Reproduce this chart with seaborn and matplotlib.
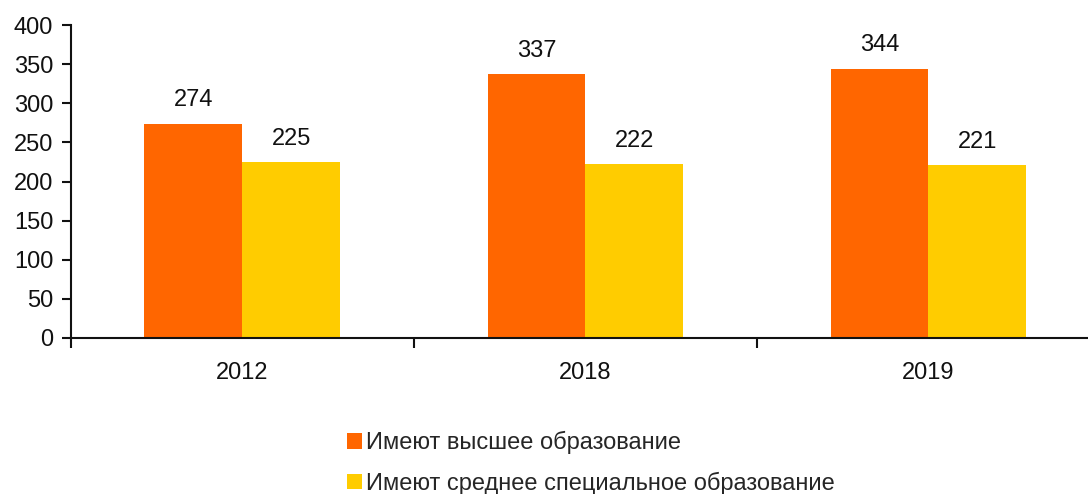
import matplotlib
matplotlib.use("Agg")
import matplotlib.pyplot as plt
import seaborn as sns
import pandas as pd
from matplotlib.ticker import FixedLocator, MultipleLocator

# Данные
years = ["2012", "2018", "2019"]
higher = [274, 337, 344]
special = [225, 222, 221]
series_names = ["Имеют высшее образование", "Имеют среднее специальное образование"]

df = pd.DataFrame({
    "year": years * 2,
    "value": higher + special,
    "group": [series_names[0]] * 3 + [series_names[1]] * 3,
})

sns.set_theme(style="white")
plt.rcParams["font.family"] = ["Liberation Sans", "DejaVu Sans"]

fs = 17

fig = plt.figure(figsize=(10.88, 4.94), dpi=100)
# ось шире фигуры: правый край обрезается, как в оригинале
ax = fig.add_axes([0.065, 0.316, 0.946, 0.633])

sns.barplot(data=df, x="year", y="value", hue="group", ax=ax,
            palette=["#FF6600", "#FFCC00"], width=0.57, saturation=1,
            edgecolor="none", linewidth=0)

for cont in ax.containers:
    ax.bar_label(cont, padding=9, fontsize=fs, color="#111111")

ax.set_ylim(0, 400)
ax.set_xlim(-0.5, 2.5)
ax.yaxis.set_major_locator(MultipleLocator(50))
ax.set_xlabel("")
ax.set_ylabel("")

ax.tick_params(axis="y", which="major", left=True, length=6.5, width=1.5,
               direction="out", labelsize=fs, colors="#111111", pad=6)
ax.tick_params(axis="x", which="major", bottom=False, length=0, labelsize=fs,
               labelcolor="#111111", pad=17)
ax.xaxis.set_minor_locator(FixedLocator([-0.5, 0.5, 1.5]))
ax.tick_params(axis="x", which="minor", bottom=True, length=7, width=1.5,
               direction="out", color="#111111")

for s in ["top", "right"]:
    ax.spines[s].set_visible(False)
for s in ["left", "bottom"]:
    ax.spines[s].set_color("#111111")
    ax.spines[s].set_linewidth(1.5)

ax.legend_.remove()
handles, labels = ax.get_legend_handles_labels()
fig.legend(handles, labels, loc="center", bbox_to_anchor=(0.543, 0.063),
           ncol=1, frameon=False, fontsize=fs, handlelength=0.65,
           handleheight=0.65, handletextpad=0.15, labelspacing=0.75,
           borderpad=0)

fig.savefig("out.png", dpi=100)
